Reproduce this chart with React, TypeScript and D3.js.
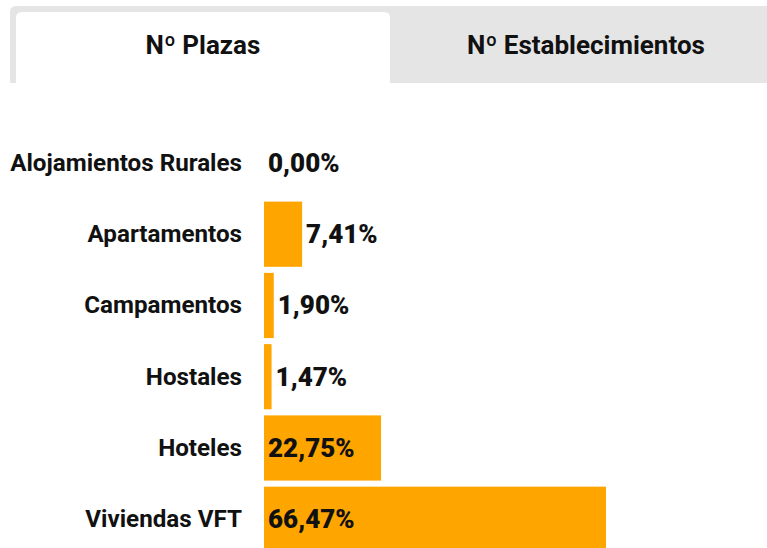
import React from "react";
import * as d3 from "d3";

const categories = [
  "Alojamientos Rurales",
  "Apartamentos",
  "Campamentos",
  "Hostales",
  "Hoteles",
  "Viviendas VFT",
];
const values = [0.0, 7.41, 1.9, 1.47, 22.75, 66.47];
const tabs = ["Nº Plazas", "Nº Establecimientos"];

const W = 767;
const H = 548;

export default function App() {
  const x = d3.scaleLinear().domain([0, 100]).range([264, 264 + 514.5]);
  const y = d3
    .scaleBand<string>()
    .domain(categories)
    .range([127.5, 127.5 + 71.2 * 6])
    .paddingInner(0.085)
    .paddingOuter(0.04);
  const fmt = (v: number) => d3.format(".2f")(v).replace(".", ",") + "%";
  const font = "Roboto, 'Noto Sans', sans-serif";
  return (
    <svg
      width={W}
      height={H}
      style={{ position: "absolute", left: 0, top: 0, background: "#fff" }}
      fontFamily={font}
    >
      {/* tabs */}
      <path d={`M10,83 V12 Q10,6 16,6 H${W} V83 Z`} fill="#e5e5e5" />
      <path d="M16,83 V18 Q16,12 22,12 H384 Q390,12 390,18 V83 Z" fill="#ffffff" />
      <text x={203} y={54} textAnchor="middle" fontSize={26} fontWeight={700} fill="#111">
        {tabs[0]}
      </text>
      <text x={586} y={54} textAnchor="middle" fontSize={26} fontWeight={700} fill="#111">
        {tabs[1]}
      </text>
      {categories.map((c, i) => {
        const v = values[i];
        const y0 = y(c)!;
        const bw = x(v) - x(0);
        const cy = y0 + y.bandwidth() / 2;
        const inside = bw > 80;
        return (
          <g key={c}>
            <rect x={x(0)} y={y0} width={bw} height={y.bandwidth()} fill="#ffa500" />
            <text
              x={242}
              y={cy}
              textAnchor="end"
              dominantBaseline="central"
              fontSize={24.2}
              fontWeight={700}
              fill="#111"
            >
              {c}
            </text>
            <text
              x={inside ? x(0) + 4 : x(v) + 4}
              y={cy}
              dominantBaseline="central"
              fontSize={26}
              fontWeight={900}
              fill="#111"
            >
              {fmt(v)}
            </text>
          </g>
        );
      })}
    </svg>
  );
}
